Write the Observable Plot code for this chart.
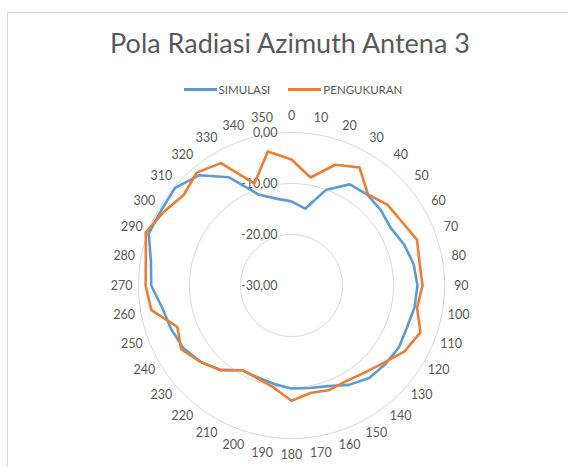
<!DOCTYPE html>
<html>
<head>
<meta charset="utf-8">
<script src="https://cdn.jsdelivr.net/npm/d3@7"></script>
<script src="https://cdn.jsdelivr.net/npm/@observablehq/plot@0.6"></script>
<style>
  html, body { margin: 0; padding: 0; background: #fff; }
  body { width: 568px; height: 467px; overflow: hidden; position: relative; font-family: Lato, "Open Sans", sans-serif; }
  #frame { position: absolute; left: 7px; top: 12px; width: 640px; height: 520px; border: 1px solid #d9d9d9; box-sizing: border-box; }
  #title { position: absolute; left: 0; top: 25px; width: 580px; text-align: center; font-size: 27px; line-height: 36px; color: #595959; }
  #legend { position: absolute; left: 0; top: 80px; width: 586px; text-align: center; font-size: 11.5px; line-height: 14px; color: #595959; }
  #legend span.item { display: inline-flex; align-items: center; margin: 0 9px; }
  #legend span.sw { display: inline-block; width: 33px; height: 3px; margin-right: 2px; }
  #chart { position: absolute; left: 0; top: 100px; }
</style>
</head>
<body>
<div id="frame"></div>
<div id="title">Pola Radiasi Azimuth Antena 3</div>
<div id="legend"></div>
<div id="chart"></div>
<script>
// ---- data ----
const angles = [0,10,20,30,40,50,60,70,80,90,100,110,120,130,140,150,160,170,180,190,200,210,220,230,240,250,260,270,280,290,300,310,320,330,340,350];
const angleLabels = ["0","10","20","30","40","50","60","70","80","90","100","110","120","130","140","150","160","170","180","190","200","210","220","230","240","250","260","270","280","290","300","310","320","330","340","350"];
const simulasi = [-13.5,-14.7,-10.0,-7.1,-6.8,-7.1,-7.5,-6.5,-5.7,-5.3,-5.5,-5.9,-5.7,-6.0,-6.3,-7.5,-9.0,-9.6,-9.8,-10.4,-10.8,-10.8,-8.4,-6.7,-5.5,-4.9,-4.3,-2.5,-2.0,-0.2,-0.5,-0.2,-1.8,-5.5,-11.0,-12.7];
const pengukuran = [-5.3,-8.5,-4.8,-3.3,-6.7,-5.4,-5.0,-3.8,-4.5,-4.3,-5.0,-3.1,-4.3,-6.4,-7.7,-8.4,-8.2,-8.6,-7.4,-9.7,-10.6,-10.8,-8.3,-6.7,-5.0,-6.2,-2.1,-1.4,-1.0,0.4,-1.1,-2.4,-1.1,-2.3,-8.7,-3.3];
const seriesNames = ["SIMULASI", "PENGUKURAN"];
const seriesColors = ["#5B9BD5", "#ED7D31"];
const ringTicks = [0, -10, -20, -30];
const ringLabels = ["0,00", "-10,00", "-20,00", "-30,00"];

// ---- geometry ----
const minV = -30;               // centre of the radar
const k = 5.1;                  // px per dB
const W = 568, H = 367;
const cx = 291, cy = 185;       // centre in svg px
const rad = a => a * Math.PI / 180;
const px = (a, v) => (v - minV) * Math.sin(rad(a));
const py = (a, v) => (v - minV) * Math.cos(rad(a));

const rows = [];
[simulasi, pengukuran].forEach((vals, s) => {
  vals.forEach((v, i) => rows.push({series: seriesNames[s], i, a: angles[i], v}));
  rows.push({series: seriesNames[s], i: vals.length, a: angles[0], v: vals[0]});
});

const rings = [];
ringTicks.filter(t => t > minV).forEach(t => {
  for (let a = 0; a <= 360; a += 2) rings.push({t, a});
});

const labelOffset = 3.3; // angle labels sit just outside the outer ring
const angleRows = angles.map((a, i) => ({a, label: angleLabels[i]}));
const ringRows = ringTicks.map((t, i) => ({t, label: ringLabels[i]}));

const chart = Plot.plot({
  width: W, height: H,
  margin: 0,
  x: {domain: [-cx / k, (W - cx) / k], range: [0, W], axis: null},
  y: {domain: [-(H - cy) / k, cy / k], range: [H, 0], axis: null},
  color: {domain: seriesNames, range: seriesColors},
  style: {fontFamily: "Lato, 'Open Sans', sans-serif", background: "transparent"},
  marks: [
    Plot.line(rings, {x: d => px(d.a, d.t), y: d => py(d.a, d.t), z: "t", stroke: "#d9d9d9", strokeWidth: 1}),
    Plot.text(ringRows, {x: 0, y: d => d.t - minV, text: "label", textAnchor: "end", dx: -14, fill: "#595959", fontSize: 12.5}),
    Plot.text(angleRows, {x: d => px(d.a, labelOffset), y: d => py(d.a, labelOffset), text: "label", fill: "#595959", fontSize: 12.5}),
    Plot.line(rows, {x: d => px(d.a, d.v), y: d => py(d.a, d.v), z: "series", stroke: "series", strokeWidth: 2.6, strokeLinejoin: "round", curve: "linear"})
  ]
});
document.getElementById("chart").appendChild(chart);

const legend = document.getElementById("legend");
seriesNames.forEach((n, i) => {
  const it = document.createElement("span");
  it.className = "item";
  it.innerHTML = `<span class="sw" style="background:${seriesColors[i]}"></span>${n}`;
  legend.appendChild(it);
});
</script>
</body>
</html>
